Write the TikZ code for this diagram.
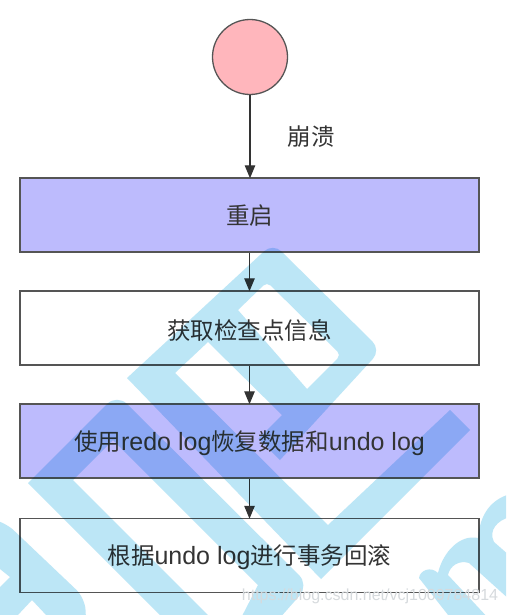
\documentclass[tikz,border=0pt]{standalone}
\usepackage{fontspec}
\setmainfont{Liberation Sans}
\newfontfamily\cjk[Scale=0.94]{Noto Sans CJK SC}
\usetikzlibrary{arrows.meta}
\definecolor{lav}{HTML}{BDBBFD}
\definecolor{pinkc}{HTML}{FFB6BC}
\definecolor{edgec}{HTML}{555555}
\definecolor{inkc}{HTML}{343434}
\definecolor{wm}{HTML}{BCE6F6}
\definecolor{urlc}{HTML}{D6DADD}
\tikzset{
  box/.style={draw=edgec,line width=1.5pt,minimum width=459pt,minimum height=74pt,inner sep=0pt,anchor=center},
  lavbox/.style={box,fill=lav},
  whitebox/.style={box,fill=white},
  startc/.style={circle,draw=edgec,line width=1.3pt,fill=pinkc,minimum size=75pt,inner sep=0pt},
  flow/.style={draw=black!80,line width=1.2pt,-{Triangle[length=13pt,width=10.5pt]},shorten >=-1pt},
  lab/.style={text=inkc,font=\fontsize{25}{30}\selectfont,inner sep=0pt},
  wmfill/.style={fill=wm,even odd rule},
}
\begin{document}
\begin{tikzpicture}[x=1pt,y=-1pt]
\useasboundingbox (0,0) rectangle (506,615);
\fill[white] (0,0) rectangle (506,615);
\node[startc] (start) at (250,57) {};
\node[lavbox] (b1) at (249.5,215) {};
\node[whitebox] (b2) at (249.5,328) {};
\node[lavbox] (b3) at (249.5,441) {};
\node[whitebox] (b4) at (249.5,555.5) {};
\node[lab] (t1) at (249.5,216) {\cjk 重启};
\node[lab] (t2) at (249.5,330) {\cjk 获取检查点信息};
\node[lab] (t3) at (249.5,443) {{\cjk 使用}redo log{\cjk 恢复数据和}undo log};
\node[lab] (t4) at (249.5,557) {{\cjk 根据}undo log{\cjk 进行事务回滚}};
\node[lab] (crash) at (311,137) {\cjk 崩溃};
\draw[flow] (start) -- (start |- b1.north);
\draw[flow] (b1) -- (b2);
\draw[flow] (b2) -- (b3);
\draw[flow] (b3) -- (b4);
\begin{scope}[blend mode=multiply]
\clip (0,0) rectangle (506,615);
% upper logo with its long arm
\fill[wmfill]
  (127,378) [rounded corners=12pt] -- (273,243) -- (381,350) [sharp corners] -- (280,460) -- (258.5,438.5)
  -- (282,415) -- (208,342) -- (175,373) -- (328,525) -- (450,410) -- (470,430) -- (321,579) -- cycle
  (238,310) [rounded corners=5pt] -- (267,282) -- (341,355) [sharp corners] -- (307,389) -- cycle;
% lower band
\fill[wm]
  (28,483) [rounded corners=14pt] -- (117,394) -- (309,585) [sharp corners] -- (278,620) -- (240,620)
  -- (258,585) -- (113,440) -- (73,480) -- (213,620) -- (165,620) -- cycle;
% bottom-left shape
\fill[wmfill]
  (-5,520) [rounded corners=12pt] -- (5,522) -- (85,598) [sharp corners] -- (86,620) -- (-5,620) -- cycle
  (-5,565) -- (10,577) -- (-5,592) -- cycle
  (32,600) -- (47,616) -- (17,616) -- cycle;
% bottom-right shape
\fill[wm]
  (419,578) .. controls (420,570) and (431,566) .. (438,573)
  .. controls (443,552) and (460,534) .. (478,538)
  .. controls (480,515) and (490,500) .. (510,494)
  -- (510,517) .. controls (498,520) and (488,530) .. (494,542)
  -- (510,556) -- (510,600) -- (469,563)
  .. controls (460,560) and (450,565) .. (448,575)
  -- (490,620) -- (452,620) -- cycle;
\end{scope}
\node[text=urlc,font=\fontsize{16}{18}\selectfont,inner sep=0pt] (url) at (370,596) {https://blog.csdn.net/vcj1009784814};
\end{tikzpicture}
\end{document}
